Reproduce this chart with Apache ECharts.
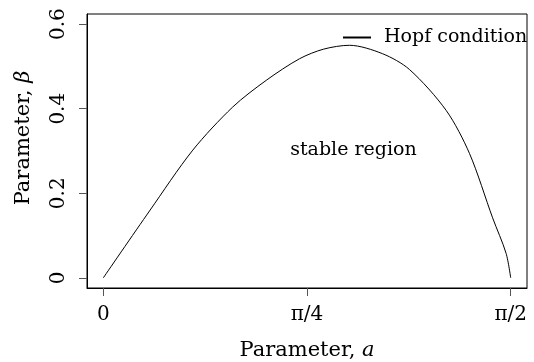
<!DOCTYPE html>
<html>
<head>
<meta charset="utf-8">
<script src="https://cdn.jsdelivr.net/npm/echarts@6/dist/echarts.min.js"></script>
<style>
html,body{margin:0;padding:0;background:#fff;}
#c{width:534px;height:362px;}
</style>
</head>
<body>
<div id="c"></div>
<script>
// Hopf condition curve: parameter a (x) vs beta (y)
const aValues = [0, 0.178, 0.345, 0.499, 0.628, 0.756, 0.85, 0.949, 1.077, 1.180, 1.322, 1.412, 1.501, 1.553, 1.5708];
const betaValues = [0, 0.158, 0.302, 0.404, 0.467, 0.518, 0.541, 0.550, 0.530, 0.493, 0.396, 0.294, 0.142, 0.058, 0];
const xTickValues = [0, Math.PI / 4, Math.PI / 2];
const xTickLabels = ['0', 'π/4', 'π/2'];
const yTickValues = [0, 0.2, 0.4, 0.6];
const yTickLabels = ['0', '0.2', '0.4', '0.6'];
const seriesName = 'Hopf condition';
const annotation = 'stable region';

const FONT = 'DejaVu Serif';
const xMin = 0, xMax = Math.PI / 2, yMin = 0, yMax = 0.6;
const xPad = (xMax - xMin) * 0.04, yPad = (yMax - yMin) * 0.04;

const chart = echarts.init(document.getElementById('c'), null, {renderer: 'canvas'});
const data = aValues.map((a, i) => [a, betaValues[i]]);

function labelFor(values, labels, v) {
  for (let i = 0; i < values.length; i++) if (Math.abs(values[i] - v) < 1e-6) return labels[i];
  return '';
}

chart.setOption({
  animation: false,
  backgroundColor: '#fff',
  grid: {left: 87, right: 7, top: 14, bottom: 74, show: true, borderColor: '#000', borderWidth: 1,
    containLabel: false, outerBoundsMode: 'none'},
  legend: {
    data: [seriesName],
    left: 338, top: 23,
    itemWidth: 28, itemHeight: 2, icon: 'rect',
    textStyle: {fontFamily: FONT, fontSize: 19, color: '#000', padding: [0, 0, 0, 8]},
    itemStyle: {color: '#000'}
  },
  xAxis: {
    type: 'value', min: xMin - xPad, max: xMax + xPad,
    splitLine: {show: false},
    axisLine: {show: true, onZero: false, lineStyle: {color: '#000'}},
    axisTick: {show: true, length: 8, lineStyle: {color: '#555'}, customValues: xTickValues},
    axisLabel: {customValues: xTickValues, margin: 17, fontFamily: FONT, fontSize: 20, color: '#000',
      formatter: v => labelFor(xTickValues, xTickLabels, v)},
    name: '{r|Parameter, }{i|a}', nameLocation: 'middle', nameGap: 52,
    nameTextStyle: {fontFamily: FONT, fontSize: 21, color: '#000',
      rich: {r: {fontFamily: FONT, fontSize: 21, color: '#000'}, i: {fontFamily: FONT, fontSize: 21, fontStyle: 'italic', color: '#000'}}}
  },
  yAxis: {
    type: 'value', min: yMin - yPad, max: yMax + yPad,
    splitLine: {show: false},
    axisLine: {show: true, onZero: false, lineStyle: {color: '#000'}},
    axisTick: {show: true, length: 8, lineStyle: {color: '#555'}, customValues: yTickValues},
    axisLabel: {customValues: yTickValues, rotate: 90, margin: 18, fontFamily: FONT, fontSize: 20, color: '#000',
      formatter: v => labelFor(yTickValues, yTickLabels, v)},
    name: '{r|Parameter, }{i|β}', nameLocation: 'middle', nameGap: 53, nameRotate: 90,
    nameTextStyle: {fontFamily: FONT, fontSize: 21, color: '#000', padding: [0, 0, 0, 26],
      rich: {r: {fontFamily: FONT, fontSize: 21, color: '#000'}, i: {fontFamily: FONT, fontSize: 21, fontStyle: 'italic', color: '#000'}}}
  },
  series: [{
    name: seriesName, type: 'line', data: data,
    showSymbol: false, symbol: 'none', smooth: 0.3,
    lineStyle: {color: '#000', width: 1}, itemStyle: {color: '#000'}
  }]
});

const p = chart.convertToPixel({gridIndex: 0}, [0.9645, 0.302]);
chart.setOption({
  graphic: [{type: 'text', x: p[0], y: p[1],
    style: {text: annotation, fontFamily: FONT, fontSize: 19, fill: '#000', align: 'center', verticalAlign: 'middle'}}]
});
</script>
</body>
</html>
